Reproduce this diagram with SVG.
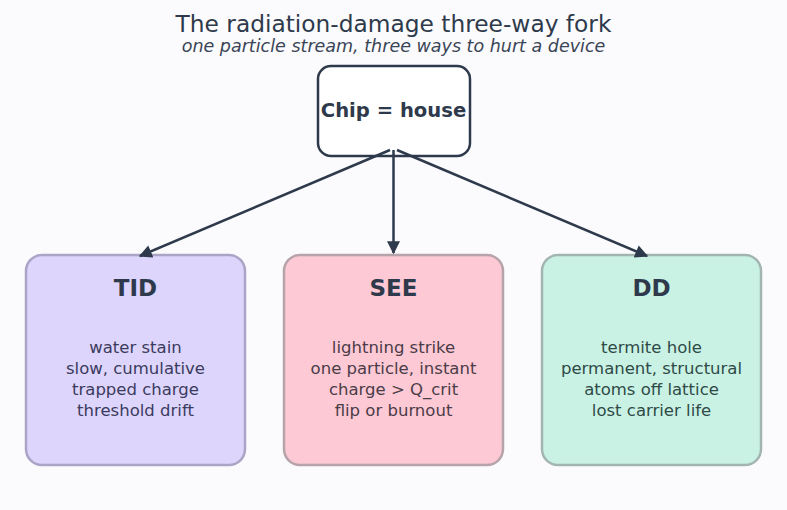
<svg xmlns="http://www.w3.org/2000/svg" width="787" height="510" viewBox="0 0 787 510">
<defs>
<marker id="ah" viewBox="0 0 10 10" refX="9" refY="5" markerWidth="5.6" markerHeight="5.2" markerUnits="strokeWidth" orient="auto">
<path d="M0,0 L10,5 L0,10 z" fill="#2e3a4b"/>
</marker>
<style>
text{font-family:"DejaVu Sans",sans-serif;text-anchor:middle}
.title{font-size:23.3px;fill:#2e3a4b}
.sub{font-size:17.5px;font-style:italic;fill:#3a4556}
.head{font-size:23px;font-weight:bold;fill:#2e3a4b}
.body{font-size:16.5px}
.card{stroke-width:2.5}
.conn{stroke:#2e3a4b;stroke-width:2.5;fill:none;marker-end:url(#ah)}
</style>
</defs>
<rect width="787" height="510" fill="#fbfbfd"/>
<text class="title" x="393.5" y="32">The radiation-damage three-way fork</text>
<text class="sub" x="393.5" y="52">one particle stream, three ways to hurt a device</text>
<g id="chip">
<rect x="318" y="66" width="152" height="90" rx="13" fill="#ffffff" stroke="#2e3a4b" stroke-width="2.5"/>
<text x="393.5" y="117" style="font-size:19.6px;font-weight:bold;fill:#2e3a4b">Chip = house</text>
</g>
<g id="tid">
<rect class="card" x="26" y="255" width="219" height="210" rx="16" fill="#ddd5fb" stroke="#aba4c6"/>
<text class="head" x="135.5" y="296">TID</text>
<g class="body" fill="#3b3b5e">
<text x="135.5" y="353">water stain</text>
<text x="135.5" y="374">slow, cumulative</text>
<text x="135.5" y="395">trapped charge</text>
<text x="135.5" y="416">threshold drift</text>
</g>
</g>
<g id="see">
<rect class="card" x="284" y="255" width="219" height="210" rx="16" fill="#fdc9d4" stroke="#b7a3aa"/>
<text class="head" x="393.5" y="296">SEE</text>
<g class="body" fill="#4a3c48">
<text x="393.5" y="353">lightning strike</text>
<text x="393.5" y="374">one particle, instant</text>
<text x="393.5" y="395">charge &gt; Q_crit</text>
<text x="393.5" y="416">flip or burnout</text>
</g>
</g>
<g id="dd">
<rect class="card" x="542" y="255" width="219" height="210" rx="16" fill="#c9f2e4" stroke="#a3b5b0"/>
<text class="head" x="651.5" y="296">DD</text>
<g class="body" fill="#2f4a47">
<text x="651.5" y="353">termite hole</text>
<text x="651.5" y="374">permanent, structural</text>
<text x="651.5" y="395">atoms off lattice</text>
<text x="651.5" y="416">lost carrier life</text>
</g>
</g>
<g id="connectors">
<path class="conn" d="M390,150 L140,256"/>
<path class="conn" d="M393.5,150 L393.5,253"/>
<path class="conn" d="M397,150 L647,256"/>
</g>
</svg>
